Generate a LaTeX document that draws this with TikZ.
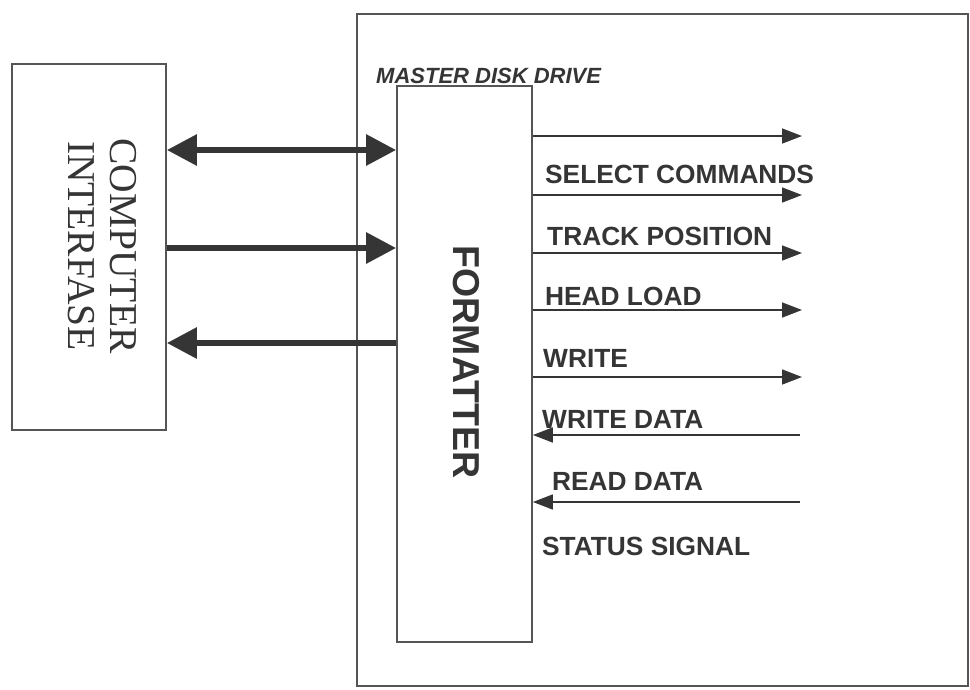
\documentclass[tikz,border=0pt]{standalone}
\usepackage{fontspec}
\newfontfamily\lsans{Liberation Sans}
\newfontfamily\lserif{Liberation Serif}
\usetikzlibrary{arrows.meta}
\definecolor{ink}{HTML}{353535}
\definecolor{boxc}{HTML}{555555}
\tikzset{
  boxnode/.style={draw=boxc, line width=1.8pt, inner sep=0pt},
  bigarrow/.style={draw=ink, line width=6pt, -{Triangle[length=30pt,width=30pt]}},
  bigdouble/.style={draw=ink, line width=6pt, {Triangle[length=30pt,width=30pt]}-{Triangle[length=30pt,width=30pt]}},
  sig/.style={draw=ink, line width=1.6pt, -{Triangle[length=20pt,width=15pt]}},
  lbl/.style={anchor=base west, inner sep=0pt, text=ink, font=\lsans\bfseries\fontsize{26.3}{30}\selectfont}
}
\begin{document}
\begin{tikzpicture}[x=1pt,y=-1pt]
\useasboundingbox (0,0) rectangle (970,689);
\fill[white] (0,0) rectangle (970,689);
% boxes
\node[boxnode, minimum width=611pt, minimum height=672pt] (mdd) at (662.5,350) {};
\node[boxnode, minimum width=154pt, minimum height=366pt] (ci) at (89,247) {};
\node[boxnode, fill=white, minimum width=135pt, minimum height=556pt] (fmt) at (464.5,364) {};
% texts
\node[rotate=-90, align=center, text=ink, font=\lserif\fontsize{39.5}{42}\selectfont] (citxt) at (102,246) {COMPUTER\\INTERFASE};
\node[rotate=-90, text=ink, font=\lsans\bfseries\fontsize{37.5}{40}\selectfont] (fmttxt) at (466,362) {FORMATTER};
\node[anchor=base west, inner sep=0pt, text=ink, font=\lsans\bfseries\itshape\fontsize{22}{24}\selectfont] (mddtxt) at (376,83) {MASTER DISK DRIVE};
% thick bus arrows
\draw[bigdouble] (ci.east |- 0,150) -- (fmt.west |- 0,150);
\draw[bigarrow] (ci.east |- 0,248) -- (fmt.west |- 0,248);
\draw[bigarrow] (fmt.west |- 0,343) -- (ci.east |- 0,343);
% signal endpoints
\coordinate (e1) at (802,136);
\coordinate (e2) at (802,195);
\coordinate (e3) at (802,253);
\coordinate (e4) at (802,310);
\coordinate (e5) at (802,377);
\coordinate (e6) at (800,435);
\coordinate (e7) at (800,502);
\draw[sig] (fmt.east |- e1) -- (e1);
\draw[sig] (fmt.east |- e2) -- (e2);
\draw[sig] (fmt.east |- e3) -- (e3);
\draw[sig] (fmt.east |- e4) -- (e4);
\draw[sig] (fmt.east |- e5) -- (e5);
\draw[sig] (e6) -- (fmt.east |- e6);
\draw[sig] (e7) -- (fmt.east |- e7);
% labels
\node[lbl] (l1) at (545,183) {SELECT COMMANDS};
\node[lbl] (l2) at (547,245) {TRACK POSITION};
\node[lbl] (l3) at (545,305) {HEAD LOAD};
\node[lbl] (l4) at (543,367) {WRITE};
\node[lbl] (l5) at (542,428) {WRITE DATA};
\node[lbl] (l6) at (552,490) {READ DATA};
\node[lbl] (l7) at (542,555) {STATUS SIGNAL};
\end{tikzpicture}
\end{document}
